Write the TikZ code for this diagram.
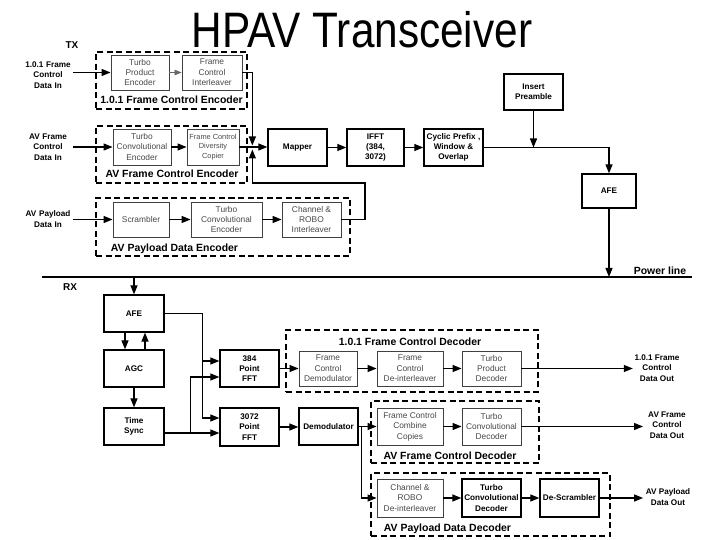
\documentclass[tikz,border=0pt]{standalone}
\usepackage{fontspec}
\setmainfont{Liberation Sans}
\usetikzlibrary{arrows.meta}
\newcommand\fsz{\fontsize{8.4}{10.4}\selectfont}
\newcommand\blk[7]{\node[#1,minimum width={(#4-#2)*1bp},minimum height={(#5-#3)*1bp}] (#7) at ({(#2+#4)/2},{(#3+#5)/2}) {#6};}
\tikzset{
  mbox/.style={draw, line width=1.3bp, align=center, inner sep=1bp, font=\bfseries\fontsize{8.2}{10.3}\selectfont},
  gbox/.style={draw=black!75, line width=0.9bp, align=center, inner sep=1bp, text=black!72, font=\fsz},
  grp/.style={draw, line width=1.6bp, dash pattern=on 6bp off 3.5bp, inner sep=0},
  glabel/.style={font=\bfseries\fontsize{10.5}{12}\selectfont, inner sep=0, anchor=base},
  io/.style={font=\bfseries\fontsize{8.2}{10.3}\selectfont, align=center, inner xsep=2bp, inner ysep=0},
  arr/.style={-{Triangle[length=9bp,width=7bp]}, line width=1.2bp},
  garr/.style={-{Triangle[length=7bp,width=5.5bp]}, line width=0.8bp, draw=black!60, fill=black!60},
  wire/.style={line width=1.2bp}
}
\begin{document}
\begin{tikzpicture}[x=1bp,y=-1bp]
\useasboundingbox (0,0) rectangle (720,540);
% title
\node[inner sep=0, font=\fontsize{50}{60}\selectfont] (title) at (362,30) {\scalebox{0.85}[1]{HPAV Transceiver}};
\node[font=\bfseries\fontsize{10}{12}\selectfont, inner sep=0] (tx) at (72,45) {TX};
\node[font=\bfseries\fontsize{10}{12}\selectfont, inner sep=0] (rx) at (70,287) {RX};
% groups
\blk{grp}{96}{52}{247}{109}{}{g1}
\blk{grp}{96}{126}{247}{183}{}{g2}
\blk{grp}{96}{198}{350}{256}{}{g3}
\blk{grp}{286}{330}{538}{392}{}{g4}
\blk{grp}{371}{401}{539}{463}{}{g5}
\blk{grp}{371}{473}{610}{536}{}{g6}
\node[glabel] (l1) at (171.5,104) {1.0.1 Frame Control Encoder};
\node[glabel] (l2) at (172,178) {AV Frame Control Encoder};
\node[glabel] (l3) at (174.5,252) {AV Payload Data Encoder};
\node[glabel] (l4) at (410,345) {1.0.1 Frame Control Decoder};
\node[glabel] (l5) at (450,459) {AV Frame Control Decoder};
\node[glabel] (l6) at (447.5,531) {AV Payload Data Decoder};
% inputs
\node[io, text width=48bp, inner xsep=1bp] (in1) at (48,75) {1.0.1 Frame\\Control\\Data In};
\node[io, text width=48bp, inner xsep=1bp] (in2) at (48,147) {AV Frame\\Control\\Data In};
\node[io, text width=48bp, inner xsep=1bp] (in3) at (48,219) {AV Payload\\Data In};
% TX boxes
\blk{gbox}{111}{55}{169}{90}{Turbo\\Product\\Encoder}{tpe}
\blk{gbox}{182}{55}{242}{90}{Frame\\Control\\Interleaver}{fci}
\blk{gbox}{113}{129}{171}{165}{Turbo\\Convolutional\\Encoder}{tce}
\blk{gbox,font=\fontsize{7.4}{9.6}\selectfont}{187}{129}{239}{165}{Frame Control\\Diversity\\Copier}{fcdc}
\blk{gbox}{113}{202}{169}{237}{Scrambler}{scr}
\blk{gbox}{191}{202}{262}{237}{Turbo\\Convolutional\\Encoder}{tcet}
\blk{gbox}{282}{202}{341}{237}{Channel \&\\ROBO\\Interleaver}{cri}
\blk{mbox}{268}{129}{327}{166}{Mapper}{map}
\blk{mbox}{347}{129}{404}{166}{IFFT\\(384,\\3072)}{ifft}
\blk{mbox}{424}{129}{483}{166}{Cyclic Prefix ,\\Window \&\\Overlap}{cp}
\blk{mbox}{504}{74}{563}{110}{Insert\\Preamble}{ip}
\blk{mbox}{582}{174}{636}{208}{AFE}{afet}
% RX boxes
\blk{mbox}{104}{295}{164}{332}{AFE}{afer}
\blk{mbox}{104}{350}{164}{387}{AGC}{agc}
\blk{mbox}{104}{408}{164}{445}{Time\\Sync}{ts}
\blk{mbox}{220}{350}{279}{387}{384\\Point\\FFT}{fftA}
\blk{mbox}{220}{408}{279}{446}{3072\\Point\\FFT}{fftB}
\blk{mbox}{299}{408}{358}{445}{Demodulator}{dem}
\blk{gbox}{299}{351}{357}{386}{Frame\\Control\\Demodulator}{fcdm}
\blk{gbox}{377}{351}{443}{386}{Frame\\Control\\De-interleaver}{fcdi}
\blk{gbox}{462}{351}{521}{386}{Turbo\\Product\\Decoder}{tpd}
\blk{gbox}{377}{408}{443}{445}{Frame Control\\Combine\\Copies}{fccc}
\blk{gbox}{462}{408}{521}{445}{Turbo\\Convolutional\\Decoder}{tcd}
\blk{gbox}{377}{479}{443}{517}{Channel \&\\ROBO\\De-interleaver}{crd}
\blk{mbox}{462}{479}{521}{517}{Turbo\\Convolutional\\Decoder}{tcdb}
\blk{mbox}{540}{479}{599}{517}{De-Scrambler}{desc}
% outputs
\node[io, inner xsep=1.5bp] (out1) at (657,368) {1.0.1 Frame\\Control\\Data Out};
\node[io, inner xsep=5bp] (out2) at (667,425) {AV Frame\\Control\\Data Out};
\node[io, inner xsep=2.5bp] (out3) at (668,497) {AV Payload\\Data Out};
% TX connectors
\draw[arr] (in1.east |- tpe.west) -- (tpe.west);
\draw[arr] (in2.east |- tce.west) -- (tce.west);
\draw[arr] (in3.east |- scr.west) -- (scr.west);
\draw[garr] (tpe.east) -- (fci.west);
\draw[arr] (tce.east) -- (fcdc.west);
\draw[arr] (scr.east) -- (tcet.west);
\draw[arr] (tcet.east) -- (cri.west);
\coordinate (J) at ([xshift=-15bp]map.west);
\coordinate (K) at (365,183);
\draw[arr, shorten >=2bp] (fci.east) -| (J);
\draw[arr, shorten >=2bp] (cri.east) -| (K) -| (J);
\draw[arr] (fcdc.east) -- (fcdc.east -| map.west);
\draw[arr] (map.east) -- (ifft.west);
\draw[arr] (ifft.east) -- (cp.west);
\draw[arr] (cp.east) -| (afet.north);
\draw[arr] (ip.south) -- (ip.south |- cp.east);
\coordinate (P1) at (42,277);
\coordinate (P2) at (692,277);
\draw[wire] (P1) -- (P2);
\node[glabel] (pl) at (660,275) {Power line};
\draw[arr] (afet.south) -- (afet.south |- P1);
% RX connectors
\draw[arr] (afer.north |- P1) -- (afer.north);
\draw[arr] ([xshift=-9bp]afer.south) -- ([xshift=-9bp]agc.north);
\draw[arr] ([xshift=11bp]agc.north) -- ([xshift=11bp]afer.south);
\draw[arr] (agc.south) -- (ts.north);
\coordinate (fa1) at ([yshift=7.5bp]fftA.west);
\coordinate (fa2) at ([yshift=-8.5bp]fftA.west);
\coordinate (fb1) at ([yshift=9bp]fftB.west);
\coordinate (fb2) at ([yshift=-6bp]fftB.west);
\coordinate (v1) at ([xshift=-17bp]fb1);
\coordinate (v2) at ([xshift=-29bp]fa2);
\draw[arr] (afer.east) -| (v1) -- (fb1);
\draw[arr] (v1 |- fa1) -- (fa1);
\draw[arr] (ts.east |- fb2) -- (fb2);
\draw[arr] (v2 |- fb2) -- (v2) -- (fa2);
\draw[arr] (fftA.east) -- (fcdm.west);
\draw[arr] (fcdm.east) -- (fcdi.west);
\draw[arr] (fcdi.east) -- (tpd.west);
\draw[arr] (tpd.east) -- (tpd.east -| out1.west);
\draw[arr] (fftB.east) -- (fftB.east -| dem.west);
\draw[arr] (dem.east) -- (fccc.west);
\coordinate (v3) at ([xshift=3bp]dem.east);
\draw[arr] (v3) |- (crd.west);
\draw[arr] (fccc.east) -- (tcd.west);
\draw[arr] (tcd.east) -- (tcd.east -| out2.west);
\draw[arr] (crd.east) -- (tcdb.west);
\draw[arr] (tcdb.east) -- (desc.west);
\draw[arr] (desc.east) -- (desc.east -| out3.west);
\end{tikzpicture}
\end{document}
